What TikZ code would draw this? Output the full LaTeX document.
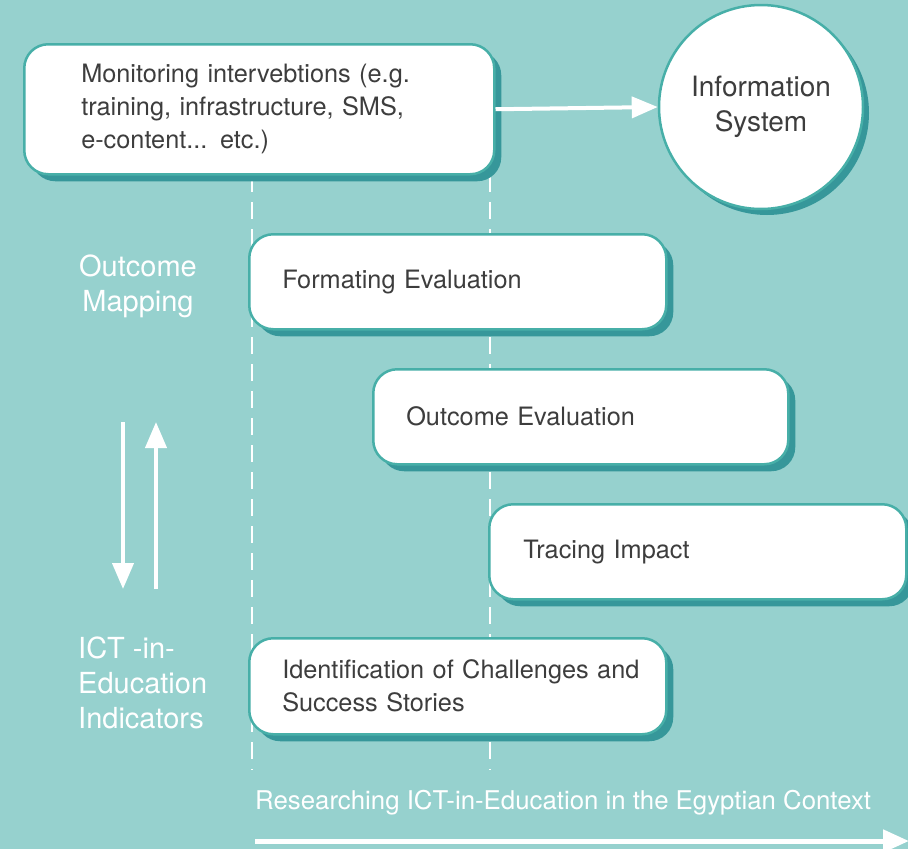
\documentclass[tikz,border=0pt]{standalone}
\usepackage{fontspec}
\setmainfont{TeX Gyre Heros}
\usetikzlibrary{arrows.meta,shadows}
\definecolor{bgteal}{HTML}{96D1CE}
\definecolor{rimteal}{HTML}{47AFA8}
\definecolor{shadeteal}{HTML}{36979A}
\definecolor{inkgray}{HTML}{3D3D3D}
\tikzset{
  stage/.style={draw=rimteal, line width=2.5pt, fill=white, rounded corners=24pt,
    anchor=north west, align=left, text=inkgray, inner xsep=0pt,
    font=\fontsize{25.3}{33}\selectfont,
    drop shadow={shadow xshift=7pt, shadow yshift=-7pt, fill=shadeteal, opacity=1}},
  hub/.style={circle, draw=rimteal, line width=2.5pt, fill=white, align=center,
    text=inkgray, font=\fontsize{28}{35}\selectfont, minimum size=204pt, inner sep=0pt,
    drop shadow={shadow xshift=6pt, shadow yshift=-6pt, fill=shadeteal, opacity=1}},
  sidelabel/.style={text=white, font=\fontsize{29}{35}\selectfont, inner sep=0pt},
  timeline/.style={white, line width=2.5pt, dash pattern=on 17pt off 10pt},
  flow/.style={white, line width=4pt, -{Triangle[length=26pt,width=21pt]}},
}
\begin{document}
\begin{tikzpicture}[x=1pt,y=-1pt]
  % canvas
  \fill[bgteal] (0,0) rectangle (908,849);
  \useasboundingbox (0,0) rectangle (908,849);

  % dashed phase guides behind the stage boxes
  \coordinate (ga) at (252,175);
  \coordinate (gb) at (252,770);
  \coordinate (gc) at (490,175);
  \coordinate (gd) at (490,770);
  \draw[timeline] (ga) -- (gb);
  \draw[timeline] (gc) -- (gd);

  % monitoring box and information system
  \node[stage, minimum width=470pt, minimum height=130pt, text width=470pt]
    (mon) at (23,43) {\hspace*{57pt}Monitoring intervebtions (e.g.\\
      \hspace*{57pt}training, infrastructure, SMS,\\
      \hspace*{57pt}e-content... etc.)};
  \node[hub] (info) at (761,107) {Information\\System};
  \draw[flow] (mon.east) -- (info.west);

  % evaluation stages
  \node[stage, minimum width=417pt, minimum height=95pt, text width=417pt]
    (form) at (248,233) {\hspace*{33pt}Formating Evaluation};
  \node[stage, minimum width=415pt, minimum height=95pt, text width=415pt]
    (outc) at (372,368) {\hspace*{33pt}Outcome Evaluation};
  \node[stage, minimum width=417pt, minimum height=95pt, text width=417pt]
    (trace) at (488,503) {\hspace*{34pt}Tracing Impact};
  \node[stage, minimum width=417pt, minimum height=96pt, text width=417pt]
    (ident) at (248,637) {\hspace*{33pt}Identification of Challenges and\\
      \hspace*{33pt}Success Stories};

  % side labels
  \node[sidelabel, align=center] (om) at (138,286) {Outcome\\Mapping};
  \node[sidelabel, align=left, anchor=west] (ict) at (78,683) {ICT -in-\\Education\\Indicators};

  % two-way link between the side labels
  \coordinate (dtop) at (123,422);
  \coordinate (dbot) at (123,589);
  \coordinate (ubot) at (156,589);
  \coordinate (utop) at (156,422);
  \draw[flow] (dtop) -- (dbot);
  \draw[flow] (ubot) -- (utop);

  % research axis
  \node[sidelabel, anchor=west, font=\fontsize{25.8}{30}\selectfont] (axis) at (255,803)
    {Researching ICT-in-Education in the Egyptian Context};
  \coordinate (xa) at (255,841);
  \coordinate (xb) at (909,841);
  \draw[white, line width=5pt, -{Triangle[length=26pt,width=22pt]}] (xa) -- (xb);
\end{tikzpicture}
\end{document}
